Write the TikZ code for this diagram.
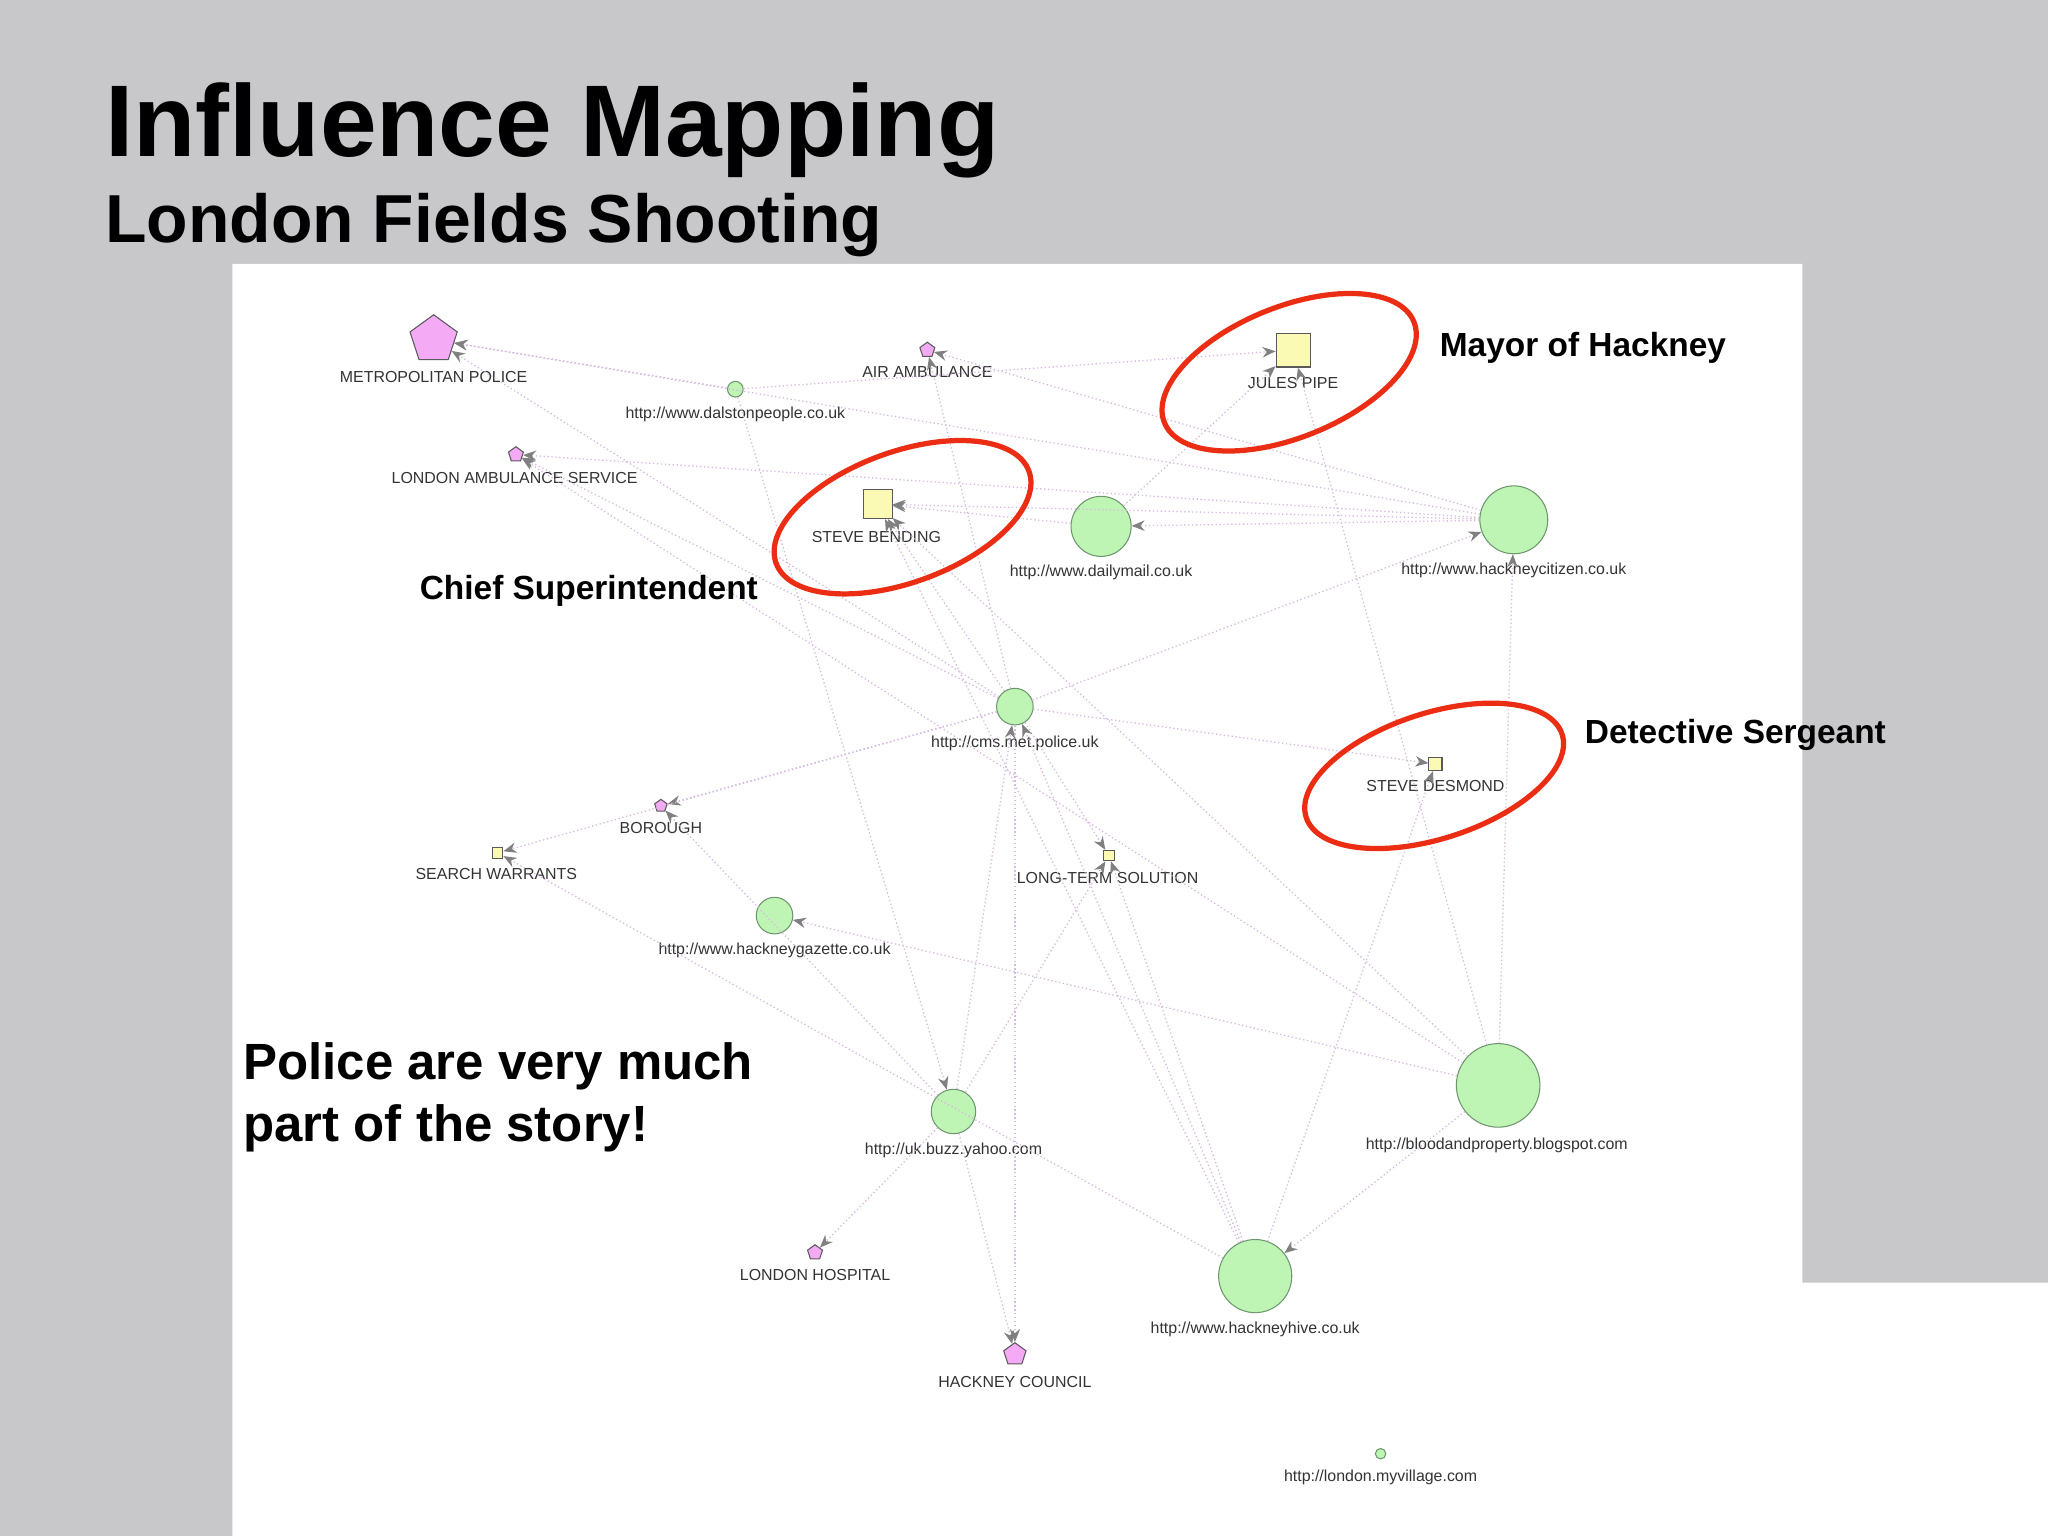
\documentclass[tikz,border=0pt]{standalone}
\usepackage{fontspec}
\setmainfont{Liberation Sans}
\usetikzlibrary{shapes.geometric,arrows.meta}
\definecolor{bg}{RGB}{200,200,202}
\definecolor{gfill}{RGB}{190,245,180}
\definecolor{gdraw}{RGB}{110,150,110}
\definecolor{pfill}{RGB}{245,170,245}
\definecolor{yfill}{RGB}{250,250,180}
\definecolor{edgec}{RGB}{215,185,225}
\definecolor{ann}{RGB}{235,45,20}
\tikzset{
 gc/.style={circle,fill=gfill,draw=gdraw,line width=0.4pt,inner sep=0pt},
 pg/.style={regular polygon,regular polygon sides=5,fill=pfill,draw=gray!70!black,line width=0.4pt,inner sep=0pt},
 ys/.style={rectangle,fill=yfill,draw=gray!70!black,line width=0.4pt,inner sep=0pt},
 lab/.style={font=\fontsize{6.1}{7}\selectfont,text=black!80,inner sep=0pt},
 edge/.style={densely dotted,draw=edgec,line width=0.5pt,-{Stealth[gray,length=5pt,width=4pt]}},
 annot/.style={font=\fontsize{12.8}{14}\bfseries\selectfont,anchor=west,inner sep=0pt},
 ring/.style={draw=ann,line width=2pt}
}
\begin{document}
\begin{tikzpicture}[x=0.5pt,y=-0.5pt]
\fill[bg] (0,0) rectangle (1568,1176);
\useasboundingbox (0,0) rectangle (1568,1176);
\fill[white] (178,202) -- (1380,202) -- (1380,982) -- (1568,982) -- (1568,1176) -- (178,1176) -- cycle;
\node[anchor=base west,inner sep=0pt,font=\fontsize{39}{44}\bfseries\selectfont] (title) at (80,120) {Influence Mapping};
\node[anchor=base west,inner sep=0pt,font=\fontsize{26}{30}\bfseries\selectfont] (sub) at (80,186) {London Fields Shooting};
% nodes
\node[pg,minimum size=19pt] (mp) at (332,260) {};
\node[gc,minimum size=6pt] (dp) at (563,298) {};
\node[pg,minimum size=6pt] (aa) at (710,268) {};
\node[ys,minimum size=13pt] (jp) at (990,268) {};
\node[pg,minimum size=6pt] (la) at (395,348) {};
\node[ys,minimum size=11pt] (sb) at (672,386) {};
\node[gc,minimum size=23pt] (dm) at (843,403) {};
\node[gc,minimum size=26pt] (hc) at (1159,398) {};
\node[gc,minimum size=14pt] (cm) at (777,541) {};
\node[ys,minimum size=5pt] (sd) at (1099,585) {};
\node[pg,minimum size=5pt] (bo) at (506,617) {};
\node[ys,minimum size=4pt] (sw) at (381,653) {};
\node[ys,minimum size=4pt] (lt) at (849,655) {};
\node[gc,minimum size=14pt] (hg) at (593,701) {};
\node[gc,minimum size=32pt] (bp) at (1147,831) {};
\node[gc,minimum size=17pt] (yh) at (730,851) {};
\node[pg,minimum size=6pt] (lh) at (624,959) {};
\node[gc,minimum size=28pt] (hh) at (961,977) {};
\node[pg,minimum size=9pt] (hk) at (777,1037) {};
\node[gc,minimum size=4pt] (mv) at (1057,1113) {};
% labels
\node[lab] (lmp) at (332,289) {METROPOLITAN POLICE};
\node[lab] (ldp) at (563,317) {http://www.dalstonpeople.co.uk};
\node[lab] (laa) at (710,285) {AIR AMBULANCE};
\node[lab] (ljp) at (990,293) {JULES PIPE};
\node[lab] (lla) at (394,366) {LONDON AMBULANCE SERVICE};
\node[lab] (lsb) at (671,411) {STEVE BENDING};
\node[lab] (ldm) at (843,438) {http://www.dailymail.co.uk};
\node[lab] (lhc) at (1159,437) {http://www.hackneycitizen.co.uk};
\node[lab] (lcm) at (777,569) {http://cms.met.police.uk};
\node[lab] (lsd) at (1099,602) {STEVE DESMOND};
\node[lab] (lbo) at (506,634) {BOROUGH};
\node[lab] (lsw) at (380,669) {SEARCH WARRANTS};
\node[lab] (llt) at (848,672) {LONG-TERM SOLUTION};
\node[lab] (lhg) at (593,728) {http://www.hackneygazette.co.uk};
\node[lab] (lbp) at (1146,877) {http://bloodandproperty.blogspot.com};
\node[lab] (lyh) at (730,881) {http://uk.buzz.yahoo.com};
\node[lab] (llh) at (624,976) {LONDON HOSPITAL};
\node[lab] (lhh) at (961,1018) {http://www.hackneyhive.co.uk};
\node[lab] (lhk) at (777,1058) {HACKNEY COUNCIL};
\node[lab] (lmv) at (1057,1131) {http://london.myvillage.com};
% edges
\foreach \a/\b in {dp/mp,dp/jp,hc/mp,hc/la,hc/sb,hc/aa,dm/jp,cm/mp,cm/la,cm/sb,cm/aa,cm/sd,cm/bo,cm/sw,cm/hc,cm/hk,cm/lt,
 hh/sb,hh/cm,hh/sd,hh/sw,bp/hh,bp/hg,bp/hc,bp/sb,bp/jp,yh/cm,yh/lh,yh/hk,yh/bo,yh/lt,dp/yh,hc/dm,hh/lt,bp/la,dm/sb}
  \draw[edge] (\a) -- (\b);
% annotations
\draw[ring,rotate around={22:(987,285)}] (987,285) ellipse [x radius=103,y radius=50];
\draw[ring,rotate around={20:(691,396)}] (691,396) ellipse [x radius=103,y radius=50];
\draw[ring,rotate around={18:(1098,594)}] (1098,594) ellipse [x radius=103,y radius=48];
\node[annot] (a1) at (1102,266) {Mayor of Hackney};
\node[annot] (a2) at (321,452) {Chief Superintendent};
\node[annot] (a3) at (1213,563) {Detective Sergeant};
\node[anchor=north west,inner sep=0pt,align=left,font=\fontsize{19.5}{23.5}\bfseries\selectfont] (pol) at (186,798) {Police are very much\\part of the story!};
\end{tikzpicture}
\end{document}
